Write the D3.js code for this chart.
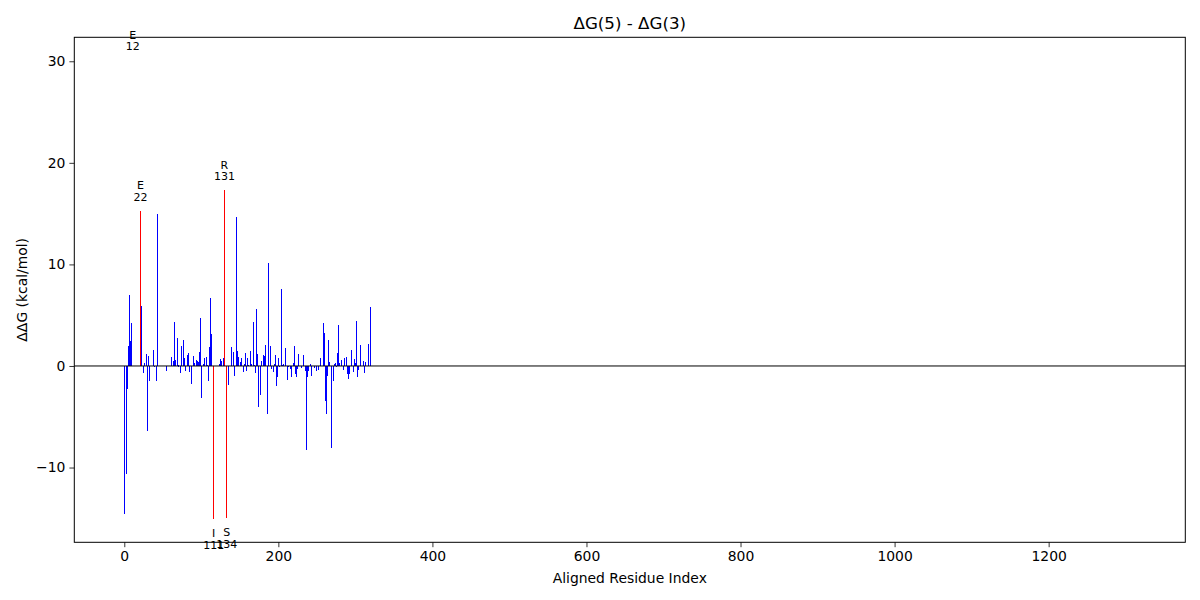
<!DOCTYPE html>
<html>
<head>
<meta charset="utf-8">
<script src="https://cdn.jsdelivr.net/npm/d3@7"></script>
<style>
  body { margin: 0; background: #fff; }
  svg { font-family: "DejaVu Sans", sans-serif; }
</style>
</head>
<body>
<svg id="chart" width="1200" height="600"></svg>
<script>
// ---- data ----
const alignedIndex = [0,3,4,5,6,7,8,9,21,22,25,26,29,30,31,33,38,39,42,43,55,61,64,65,67,69,70,71,73,74,77,78,80,82,83,85,87,90,91,94,95,96,98,99,100,103,104,107,108,109,110,112,113,116,124,125,126,129,130,133,135,139,142,143,146,147,148,151,152,155,156,157,159,160,161,164,165,168,169,170,172,173,174,177,178,181,182,183,186,187,190,191,194,195,196,198,199,200,202,204,206,207,209,212,213,216,217,220,221,222,224,225,226,230,233,235,236,238,239,242,243,247,249,252,255,258,260,261,262,264,265,267,269,271,273,274,275,277,278,280,282,284,286,288,290,291,293,295,297,299,300,301,303,304,306,310,312,313,317,320];
const ddG = [-14.57,-10.6,-2.3,2.0,2.0,7.0,2.5,4.2,15.3,5.93,-0.72,0.26,1.2,-6.4,1.0,-1.5,1.6,-0.13,-1.44,15.0,-0.46,0.9,0.5,4.36,0.6,2.8,-0.1,0.13,-0.72,2.0,2.6,0.82,-0.46,1.1,1.3,-0.62,-1.8,1.0,0.33,0.6,0.5,0.4,1.4,4.7,-3.2,0.23,0.82,0.92,0.13,-1.44,1.9,6.7,3.1,-15.06,0.23,0.72,0.5,0.8,17.3,-14.93,-1.9,1.9,1.4,-1.0,14.7,1.5,0.9,0.4,0.8,-0.56,0.23,1.3,-0.46,0.8,0.13,1.5,0.23,4.36,0.13,-0.72,5.64,1.2,-4.07,-2.9,0.5,1.1,1.0,2.1,-4.75,10.16,2.0,-0.26,-0.56,0.23,1.1,-2.0,-1.1,0.8,-0.13,7.6,0.13,0.23,1.8,-1.4,-0.13,-0.26,-1.1,0.33,2.0,-0.75,-1.1,-0.26,1.2,-0.16,1.1,-0.46,-8.3,-1.1,-0.5,0.23,-0.95,-0.23,-0.5,-0.36,0.8,4.26,3.28,-3.4,-4.7,-0.95,2.6,0.43,-8.03,-1.5,0.23,0.33,-0.13,1.3,4.07,0.33,0.62,-0.36,0.82,0.92,-0.75,-1.3,-0.75,1.6,-0.62,0.72,0.33,4.46,-1.1,-0.43,2.1,0.5,-0.72,0.43,2.2,5.84];
const highlightIndex = [21,116,130,133];

// annotations: residue letter, residue number, aligned index, value at which the label sits
const annotLetter = ["E","E","R","I","S"];
const annotResidue = [12,22,131,111,134];
const annotIndex = [11,21,130,116,133];
const annotValue = [30.1,15.3,17.3,-15.06,-14.93];

const xTicks = [0,200,400,600,800,1000,1200];
const yTicks = [-10,0,10,20,30];
const xDomain = [-64.9, 1377.4];
const yDomain = [-17.36, 32.36];

const titleText = "ΔG(5) - ΔG(3)";
const xLabelText = "Aligned Residue Index";
const yLabelText = "ΔΔG (kcal/mol)";

(function () {
  // ---- layout ----
  const pl = 74.3, pr = 1185.3, pt = 37.3, pb = 542.3;
  const svg = d3.select("#chart");

  const x = d3.scaleLinear().domain(xDomain).range([pl, pr]);
  const y = d3.scaleLinear().domain(yDomain).range([pb, pt]);

  const bars = alignedIndex.map((d, i) => ({ idx: d, v: ddG[i], hi: highlightIndex.includes(d) }));

  // bars
  svg.append("g")
    .attr("shape-rendering", "crispEdges")
    .selectAll("rect")
    .data(bars)
    .join("rect")
    .attr("x", d => Math.floor(x(d.idx)))
    .attr("width", 1)
    .attr("y", d => Math.min(y(d.v), y(0)))
    .attr("height", d => Math.abs(y(d.v) - y(0)))
    .attr("fill", d => d.hi ? "#ff0000" : "#0000ff");

  // zero line
  svg.append("line")
    .attr("x1", pl).attr("x2", pr)
    .attr("y1", y(0)).attr("y2", y(0))
    .attr("stroke", "#000").attr("stroke-width", 1);

  // annotations
  const ann = annotLetter.map((l, i) => ({ l, r: annotResidue[i], idx: annotIndex[i], v: annotValue[i] }));
  const ag = svg.append("g").attr("font-size", 11).attr("text-anchor", "middle").attr("fill", "#000");
  ann.forEach(a => {
    const cx = x(a.idx);
    const py = y(a.v);
    if (a.v >= 0) {
      ag.append("text").attr("x", cx).attr("y", py - 21.5).text(a.l);
      ag.append("text").attr("x", cx).attr("y", py - 10).text(a.r);
    } else {
      ag.append("text").attr("x", cx).attr("y", py + 18.5).text(a.l);
      ag.append("text").attr("x", cx).attr("y", py + 30).text(a.r);
    }
  });

  // axes
  const xAxis = d3.axisBottom(x).tickValues(xTicks).tickSize(4.9).tickPadding(4).tickFormat(d3.format("d"));
  const yAxis = d3.axisLeft(y).tickValues(yTicks).tickSize(4.9).tickPadding(4).tickFormat(d3.format("d"));

  const gx = svg.append("g").attr("transform", `translate(0,${pb})`).call(xAxis);
  const gy = svg.append("g").attr("transform", `translate(${pl},0)`).call(yAxis);
  [gx, gy].forEach(g => {
    g.select(".domain").remove();
    g.selectAll(".tick line").attr("stroke", "#000").attr("stroke-width", 0.8);
    g.selectAll(".tick text").attr("font-size", 13.9).attr("fill", "#000").attr("font-family", "DejaVu Sans");
  });

  // frame
  svg.append("rect")
    .attr("x", pl).attr("y", pt)
    .attr("width", pr - pl).attr("height", pb - pt)
    .attr("fill", "none").attr("stroke", "#000").attr("stroke-width", 1);

  // title & labels
  svg.append("text")
    .attr("x", (pl + pr) / 2).attr("y", 29)
    .attr("text-anchor", "middle").attr("font-size", 16.7).attr("fill", "#000")
    .text(titleText);

  svg.append("text")
    .attr("x", (pl + pr) / 2).attr("y", 583)
    .attr("text-anchor", "middle").attr("font-size", 13.9).attr("fill", "#000")
    .text(xLabelText);

  svg.append("text")
    .attr("transform", `translate(27,${(pt + pb) / 2}) rotate(-90)`)
    .attr("text-anchor", "middle").attr("font-size", 13.9).attr("fill", "#000")
    .text(yLabelText);
})();
</script>
</body>
</html>
